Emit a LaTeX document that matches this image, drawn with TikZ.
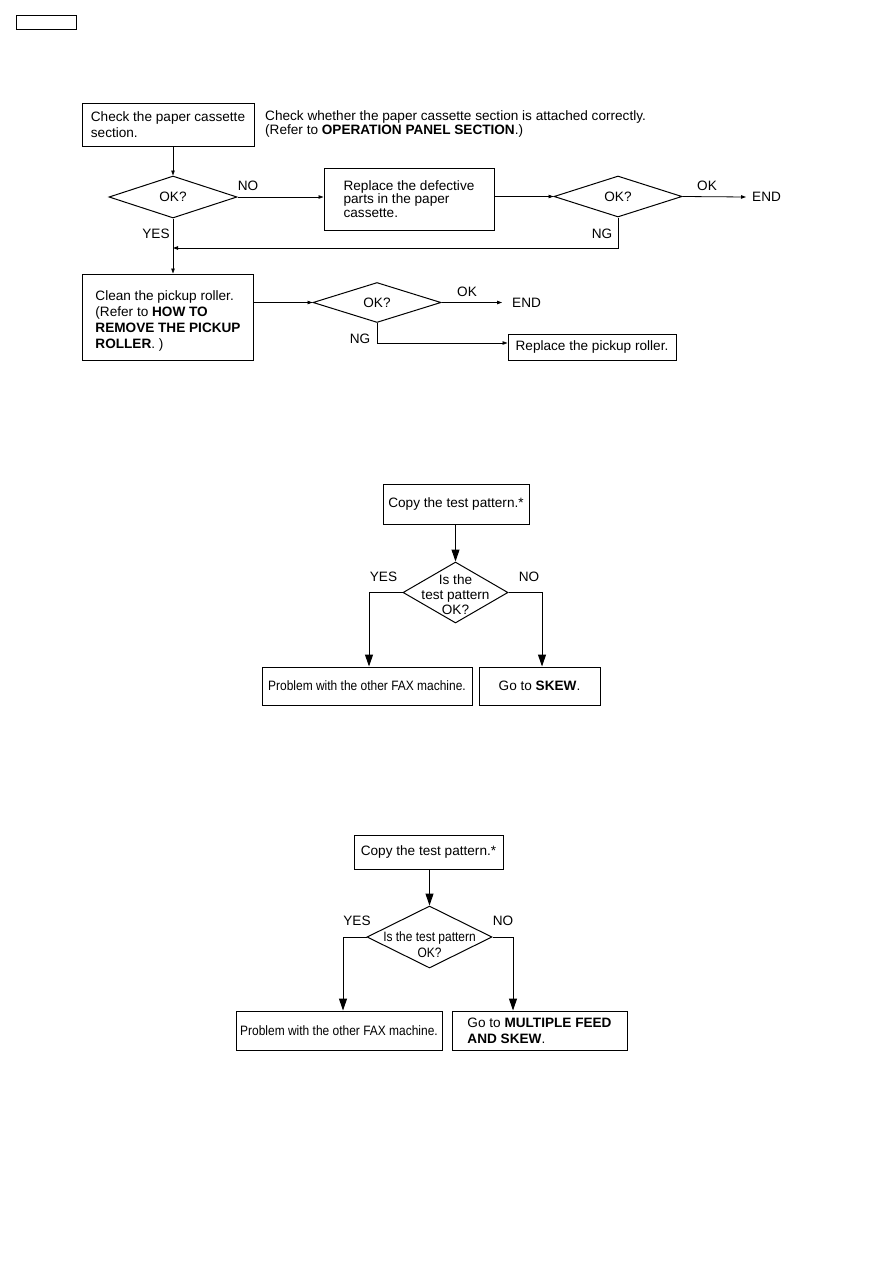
\documentclass[tikz,border=0pt]{standalone}
\usepackage{fontspec}
\setmainfont{Liberation Sans}
\newfontfamily\narrowsf[FakeStretch=0.88]{Liberation Sans}
\usetikzlibrary{arrows.meta,shapes.geometric}
\newcommand{\chartfont}{\fontsize{13.6}{16}\selectfont}
\newcommand{\tightfont}{\fontsize{13.6}{13.3}\selectfont}

\begin{document}
\begin{tikzpicture}[x=1pt,y=-1pt,
  box/.style={draw,line width=1pt,inner sep=0pt,align=left,font=\chartfont},
  dia/.style={draw,line width=1pt,diamond,inner sep=0pt},
  lbl/.style={inner sep=0pt,font=\chartfont},
  line/.style={line width=0.8pt},
  small/.style={line,-{Triangle[length=5pt,width=3.5pt]}},
  big/.style={line width=1pt,-{Triangle[length=12pt,width=8pt]}}]
\useasboundingbox (0,0) rectangle (893,1263);
\node[draw,line width=1pt,minimum width=60pt,minimum height=14pt,inner sep=0pt] (tag) at (46,23) {};

\node[box,minimum width=172pt,minimum height=43pt] (chk) at (168,124.5) {Check the paper cassette\\section.};
\node[lbl,anchor=west,align=left,font=\tightfont] (note) at (265,124) {Check whether the paper cassette section is attached correctly.\\(Refer to \textbf{OPERATION PANEL SECTION}.)};
\node[dia,minimum width=128pt,minimum height=42pt] (ok1) at (173,197) {};
\node[lbl] (ok1t) at (ok1) {OK?};
\node[box,font=\tightfont,minimum width=170pt,minimum height=62pt] (repl) at (409,199) {Replace the defective\\parts in the paper\\cassette.};
\node[dia,minimum width=128pt,minimum height=41pt] (ok2) at (618,196.5) {};
\node[lbl] (ok2t) at (ok2) {OK?};
\node[lbl,anchor=west,inner xsep=6pt] (end1) at (746,197) {END};
\coordinate (back) at (173,248);
\node[box,minimum width=171pt,minimum height=86pt] (clean) at (167.5,317) {};
\node[lbl,align=left] (cleant) at (168,321) {Clean the pickup roller.\\(Refer to \textbf{HOW TO}\\\textbf{REMOVE THE PICKUP}\\\textbf{ROLLER}. )};
\node[dia,minimum width=128pt,minimum height=40pt] (ok3) at (377,302.5) {};
\node[lbl] (ok3t) at (ok3) {OK?};
\node[lbl,anchor=west,inner xsep=10pt] (end2) at (502,302.5) {END};
\node[box,align=center,minimum width=168pt,minimum height=26pt] (pick) at (592,347) {Replace the pickup roller.};
\node[lbl] (no1) at (248,186) {NO};
\node[lbl] (yes1) at (156,234) {YES};
\node[lbl] (okl1) at (707,186) {OK};
\node[lbl] (ng1) at (602,234) {NG};
\node[lbl] (okl2) at (467,292) {OK};
\node[lbl] (ng2) at (360,339) {NG};
\draw[small] (chk.south -| ok1.north) -- (ok1.north);
\draw[small] (ok1.east) -- (ok1.east -| repl.west);
\draw[small] (repl.east |- ok2.west) -- (ok2.west);
\draw[small] (ok2.east) -- (end1.west);
\draw[small] (ok2.south) |- (back);
\draw[small] (ok1.south) -- (ok1.south |- clean.north);
\draw[small] (clean.east |- ok3.west) -- (ok3.west);
\draw[small] (ok3.east) -- (end2.west);
\draw[small] (ok3.south) |- ([yshift=4pt]pick.west);

\node[box,align=center,minimum width=146pt,minimum height=40pt] (copy1) at (456,504) {Copy the test pattern.*};
\node[dia,minimum width=105pt,minimum height=61pt] (test1) at (455.5,592.5) {};
\node[lbl,align=center,font=\fontsize{13.6}{15}\selectfont] (test1t) at (455.5,595) {Is the\\test pattern\\OK?};
\node[box,align=center,minimum width=210pt,minimum height=38pt,font=\chartfont\narrowsf] (fax1) at (367,686) {Problem with the other FAX machine.};
\node[box,align=center,minimum width=121pt,minimum height=38pt] (skew1) at (539.5,686) {Go to \textbf{SKEW}.};
\node[lbl] (yes2) at (383.5,577) {YES};
\node[lbl] (no2) at (529,577) {NO};
\draw[big] (copy1.south -| test1.north) -- (test1.north);
\draw[big] (test1.west) -| ([xshift=2pt]fax1.north);
\draw[big] (test1.east) -| ([xshift=2.5pt]skew1.north);

\node[box,align=center,minimum width=149pt,minimum height=34pt] (copy2) at (428.5,852) {Copy the test pattern.*};
\node[dia,minimum width=125pt,minimum height=62pt] (test2) at (429.5,937) {};
\node[lbl,align=center,font=\chartfont\narrowsf] (test2t) at (429.5,945) {Is the test pattern\\OK?};
\node[box,align=center,minimum width=206pt,minimum height=39pt,font=\chartfont\narrowsf] (fax2) at (339,1030.5) {Problem with the other FAX machine.};
\node[box,minimum width=175pt,minimum height=39pt] (skew2) at (539.5,1030.5) {Go to \textbf{MULTIPLE FEED}\\\textbf{AND SKEW}.};
\node[lbl] (yes3) at (357,921) {YES};
\node[lbl] (no3) at (503,921) {NO};
\draw[big] (copy2.south -| test2.north) -- (test2.north);
\draw[big] (test2.west) -| ([xshift=4pt]fax2.north);
\draw[big] (test2.east) -| ([xshift=-26.5pt]skew2.north);
\end{tikzpicture}
\end{document}
